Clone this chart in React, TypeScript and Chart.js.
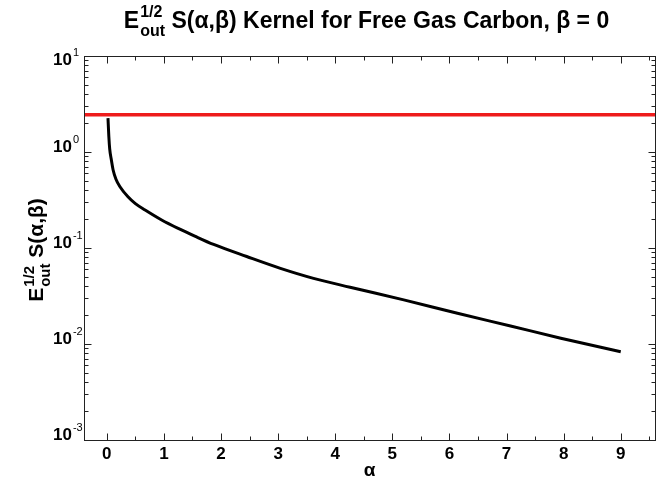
import React, { useEffect, useRef } from 'react';
import { Chart, registerables } from 'chart.js';

Chart.register(...registerables);

// alpha values
const alpha = [0.02, 0.035, 0.05, 0.08, 0.11, 0.16, 0.23, 0.37, 0.5, 0.67, 0.96, 1.25, 1.54, 1.87, 2.45, 3.04, 3.62, 4.26, 5.2, 6.14, 7.07, 7.95, 9.0];
// E_out^{1/2} S(alpha, beta=0)
const kernel = [2.25, 1.45, 1.08, 0.82, 0.65, 0.52, 0.435, 0.342, 0.29, 0.249, 0.196, 0.16, 0.133, 0.109, 0.0815, 0.0614, 0.0483, 0.039, 0.0288, 0.0209, 0.0154, 0.0115, 0.0083];
// horizontal red reference level
const refLevel = 2.45;

const xMin = -0.4;
const xMax = 9.6;
const yMin = 1e-3;
const yMax = 1e1;
const xMajorTicks = [0, 1, 2, 3, 4, 5, 6, 7, 8, 9];
const xMinorTicks = [0.5, 1.5, 2.5, 3.5, 4.5, 5.5, 6.5, 7.5, 8.5, 9.5];
const yDecadeExponents = [-3, -2, -1, 0, 1];
const yTickLabels = ['-3', '-2', '-1', '0', '1'];

const titleRest = ' S(\u03b1,\u03b2) Kernel for Free Gas Carbon, \u03b2 = 0';
const yTitleRest = ' S(\u03b1,\u03b2)';
const xTitle = '\u03b1';

const FONT = '"Liberation Sans", Arial, Helvetica, sans-serif';

function drawRich(
  ctx: CanvasRenderingContext2D,
  cx: number,
  baseline: number,
  big: number,
  small: number,
  supDy: number,
  subDy: number,
  rest: string
) {
  ctx.textBaseline = 'alphabetic';
  ctx.textAlign = 'left';
  ctx.font = `bold ${big}px ${FONT}`;
  const wE = ctx.measureText('E').width;
  const wRest = ctx.measureText(rest).width;
  ctx.font = `bold ${small}px ${FONT}`;
  const wSup = ctx.measureText('1/2').width;
  const wSub = ctx.measureText('out').width;
  const wS = Math.max(wSup, wSub);
  const total = wE + 1 + wS + wRest;
  const x0 = cx - total / 2;
  ctx.font = `bold ${big}px ${FONT}`;
  ctx.fillText('E', x0, baseline);
  ctx.font = `bold ${small}px ${FONT}`;
  ctx.fillText('1/2', x0 + wE + 1, baseline + supDy);
  ctx.fillText('out', x0 + wE + 1, baseline + subDy);
  ctx.font = `bold ${big}px ${FONT}`;
  ctx.fillText(rest, x0 + wE + 1 + wS, baseline);
}

const decorPlugin = {
  id: 'decor',
  afterDraw(chart: any) {
    const ctx: CanvasRenderingContext2D = chart.ctx;
    const a = chart.chartArea;
    const xs = chart.scales.x;
    const ys = chart.scales.y;
    ctx.save();
    ctx.strokeStyle = '#222';
    ctx.lineWidth = 1;
    const L = Math.round(a.left) + 0.5;
    const R = Math.round(a.right) + 0.5;
    const T = Math.round(a.top) + 0.5;
    const B = Math.round(a.bottom) + 0.5;
    ctx.strokeRect(L, T, R - L, B - T);

    ctx.beginPath();
    const xt = (v: number, len: number) => {
      const p = Math.round(xs.getPixelForValue(v)) + 0.5;
      ctx.moveTo(p, B);
      ctx.lineTo(p, B - len);
      ctx.moveTo(p, T);
      ctx.lineTo(p, T + len);
    };
    xMajorTicks.forEach((v) => xt(v, 7));
    xMinorTicks.forEach((v) => xt(v, 4));
    const yt = (v: number, len: number) => {
      const p = Math.round(ys.getPixelForValue(v)) + 0.5;
      ctx.moveTo(L, p);
      ctx.lineTo(L + len, p);
      ctx.moveTo(R, p);
      ctx.lineTo(R - len, p);
    };
    yDecadeExponents.forEach((e) => {
      yt(Math.pow(10, e), 7);
      if (e < 1) {
        for (let m = 2; m <= 9; m++) yt(m * Math.pow(10, e), 4);
      }
    });
    ctx.stroke();

    ctx.fillStyle = '#000';
    // x tick labels
    ctx.font = `bold 17px ${FONT}`;
    ctx.textAlign = 'center';
    ctx.textBaseline = 'alphabetic';
    xMajorTicks.forEach((v) => {
      ctx.fillText(String(v), xs.getPixelForValue(v), a.bottom + 19);
    });
    // y tick labels 10^n
    yDecadeExponents.forEach((e, i) => {
      const p = ys.getPixelForValue(Math.pow(10, e));
      const base = Math.max(p, a.top + 9);
      ctx.textAlign = 'left';
      ctx.font = `bold 17px ${FONT}`;
      ctx.fillText('10', 53, base);
      const w = ctx.measureText('10').width;
      ctx.font = `11px ${FONT}`;
      ctx.fillText(yTickLabels[i], 53 + w + 1, base - 9);
    });
    // x title
    ctx.font = `bold 19px ${FONT}`;
    ctx.textAlign = 'center';
    ctx.fillText(xTitle, (a.left + a.right) / 2, a.bottom + 36);
    // main title
    drawRich(ctx, (a.left + a.right) / 2 - 3, 28, 23, 16, -11, 8, titleRest);
    // y title
    ctx.save();
    ctx.translate(43, (a.top + a.bottom) / 2 + 2);
    ctx.rotate(-Math.PI / 2);
    drawRich(ctx, 0, 0, 21, 15, -9, 7, yTitleRest);
    ctx.restore();
    ctx.restore();
  },
};

export default function App() {
  const ref = useRef<HTMLCanvasElement | null>(null);
  useEffect(() => {
    if (!ref.current) return;
    const chart = new Chart(ref.current, {
      type: 'line',
      data: {
        datasets: [
          {
            label: 'kernel',
            data: alpha.map((x, i) => ({ x, y: kernel[i] })),
            borderColor: '#000000',
            borderWidth: 3,
            pointRadius: 0,
            cubicInterpolationMode: 'monotone',
            fill: false,
          },
          {
            label: 'reference',
            data: [
              { x: xMin, y: refLevel },
              { x: xMax, y: refLevel },
            ],
            borderColor: '#ee1c1c',
            borderWidth: 3.5,
            pointRadius: 0,
            fill: false,
          },
        ],
      },
      options: {
        responsive: false,
        animation: false,
        events: [],
        layout: { padding: { left: 84, right: 10, top: 56, bottom: 41 } },
        plugins: { legend: { display: false }, tooltip: { enabled: false }, title: { display: false } },
        scales: {
          x: {
            type: 'linear',
            min: xMin,
            max: xMax,
            grid: { display: false, drawTicks: false },
            border: { display: false },
            ticks: { display: false },
            afterFit: (s: any) => {
              s.height = 0;
            },
          },
          y: {
            type: 'logarithmic',
            min: yMin,
            max: yMax,
            grid: { display: false, drawTicks: false },
            border: { display: false },
            ticks: { display: false },
            afterFit: (s: any) => {
              s.width = 0;
            },
          },
        },
      },
      plugins: [decorPlugin],
    } as any);
    return () => chart.destroy();
  }, []);
  return (
    <div style={{ position: 'absolute', left: 0, top: 0, width: 665, height: 481, background: '#fff' }}>
      <canvas ref={ref} width={665} height={481} style={{ display: 'block', width: 665, height: 481 }} />
    </div>
  );
}
